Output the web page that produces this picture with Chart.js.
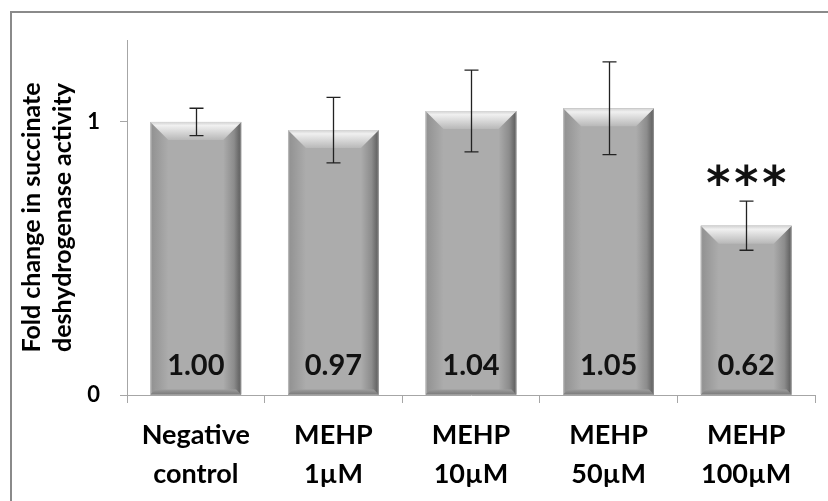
<!DOCTYPE html>
<html>
<head>
<meta charset="utf-8">
<script src="https://cdn.jsdelivr.net/npm/chart.js@4.4.0/dist/chart.umd.min.js"></script>
<style>
  html, body { margin: 0; padding: 0; background: #fff; }
  #wrap { width: 828px; height: 501px; position: relative; }
</style>
</head>
<body>
<div id="wrap"><canvas id="sdhChart" width="828" height="501"></canvas></div>
<script>
// data
var categories = [["Negative", "control"], ["MEHP", "1µM"], ["MEHP", "10µM"], ["MEHP", "50µM"], ["MEHP", "100µM"]];
var foldChange = [1.00, 0.97, 1.04, 1.05, 0.62];
var errors = [0.05, 0.12, 0.15, 0.17, 0.09];
var valueLabels = ["1.00", "0.97", "1.04", "1.05", "0.62"];
var significance = ["", "", "", "", "***"];
var yTicks = [0, 1];

var FONT = "Lato, 'Open Sans', sans-serif";

// frame around the whole figure
var framePlugin = {
    id: "frame",
    beforeDraw: function (chart) {
        var c = chart.ctx;
        c.save();
        c.strokeStyle = "#8a8a8a";
        c.lineWidth = 2;
        c.strokeRect(11, 12, 900, 600);
        c.restore();
    }
};

function poly(c, pts, fill) {
    c.fillStyle = fill;
    c.beginPath();
    c.moveTo(pts[0][0], pts[0][1]);
    for (var k = 1; k < pts.length; k++) c.lineTo(pts[k][0], pts[k][1]);
    c.closePath();
    c.fill();
}

// bevelled bars, error bars, value labels and stars
var barDeco = {
    id: "barDeco",
    afterDatasetsDraw: function (chart) {
        var c = chart.ctx;
        var meta = chart.getDatasetMeta(0);
        var yScale = chart.scales.y;
        meta.data.forEach(function (bar, i) {
            var l = bar.x - bar.width / 2, r = bar.x + bar.width / 2;
            var t = bar.y, b = bar.base;
            var bv = 18, bb = 5;
            c.save();
            c.fillStyle = "#acacac";
            c.fillRect(l, t, r - l, b - t);
            // left side
            var gl = c.createLinearGradient(l, 0, l + bv, 0);
            gl.addColorStop(0, "#c4c4c4");
            gl.addColorStop(0.1, "#939393");
            gl.addColorStop(1, "#acacac");
            poly(c, [[l, t], [l + bv, t + bv], [l + bv, b - bb], [l, b]], gl);
            // right side
            var gr = c.createLinearGradient(r - bv, 0, r, 0);
            gr.addColorStop(0, "#acacac");
            gr.addColorStop(0.6, "#8c8c8c");
            gr.addColorStop(0.9, "#666666");
            gr.addColorStop(1, "#9a9a9a");
            poly(c, [[r, t], [r - bv, t + bv], [r - bv, b - bb], [r, b]], gr);
            // bottom
            var gb = c.createLinearGradient(0, b - bb, 0, b);
            gb.addColorStop(0, "#9c9c9c");
            gb.addColorStop(1, "#7a7a7a");
            poly(c, [[l, b], [l + bb, b - bb], [r - bb, b - bb], [r, b]], gb);
            // top bevel
            var gt = c.createLinearGradient(0, t, 0, t + bv);
            gt.addColorStop(0, "#d2d2d2");
            gt.addColorStop(0.2, "#f0f0f0");
            gt.addColorStop(1, "#b8b8b8");
            poly(c, [[l, t], [r, t], [r - bv, t + bv], [l + bv, t + bv]], gt);

            // error bar
            var yHi = yScale.getPixelForValue(foldChange[i] + errors[i]);
            var yLo = yScale.getPixelForValue(foldChange[i] - errors[i]);
            var x = Math.round(bar.x) + 0.5;
            c.strokeStyle = "#222";
            c.lineWidth = 1.3;
            c.beginPath();
            c.moveTo(x, yHi); c.lineTo(x, yLo);
            c.moveTo(x - 7, yHi); c.lineTo(x + 7, yHi);
            c.moveTo(x - 7, yLo); c.lineTo(x + 7, yLo);
            c.stroke();

            // value label at the foot of the bar
            c.fillStyle = "#111";
            c.font = "bold 29px " + FONT;
            c.textAlign = "center";
            c.textBaseline = "alphabetic";
            c.fillText(valueLabels[i], bar.x, b - 20);

            // significance stars
            if (significance[i]) {
                c.font = "bold 46px 'DejaVu Sans'";
                c.textBaseline = "middle";
                for (var k = 0; k < significance[i].length; k++) {
                    var sx = bar.x + (k - (significance[i].length - 1) / 2) * 28;
                    c.fillText(significance[i][k], sx, yHi - 14);
                }
            }
            c.restore();
        });
    }
};

var ctx = document.getElementById("sdhChart").getContext("2d");
var myChart = new Chart(ctx, {
    type: "bar",
    data: {
        labels: categories,
        datasets: [{
            data: foldChange,
            backgroundColor: "#acacac",
            borderWidth: 0,
            categoryPercentage: 1,
            barPercentage: 0.66
        }]
    },
    options: {
        responsive: false,
        animation: false,
        events: [],
        layout: { padding: { top: 40, right: 13, left: 0, bottom: 0 } },
        plugins: { legend: { display: false }, tooltip: { enabled: false } },
        scales: {
            x: {
                offset: true,
                grid: { offset: true, drawOnChartArea: false, color: "#a6a6a6", tickLength: 8 },
                border: { color: "#a6a6a6", width: 1 },
                ticks: {
                    color: "#000",
                    padding: 13,
                    maxRotation: 0,
                    font: { family: FONT, size: 27, weight: "bold", lineHeight: 1.45 }
                },
                afterFit: function (scale) { scale.height = 106; }
            },
            y: {
                min: 0,
                max: 1.3,
                afterBuildTicks: function (scale) {
                    scale.ticks = yTicks.map(function (v) { return { value: v }; });
                },
                grid: { drawOnChartArea: false, color: "#a6a6a6", tickLength: 7 },
                border: { color: "#a6a6a6", width: 1 },
                ticks: {
                    color: "#000",
                    padding: 20,
                    font: { family: FONT, size: 22, weight: "bold" }
                },
                title: {
                    display: true,
                    text: ["Fold change in succinate", "deshydrogenase activity"],
                    color: "#000",
                    padding: { top: 16, bottom: 0 },
                    font: { family: FONT, size: 25, weight: "bold", lineHeight: 1.25 }
                },
                afterFit: function (scale) { scale.width = 127; }
            }
        }
    },
    plugins: [framePlugin, barDeco]
});
</script>
</body>
</html>
